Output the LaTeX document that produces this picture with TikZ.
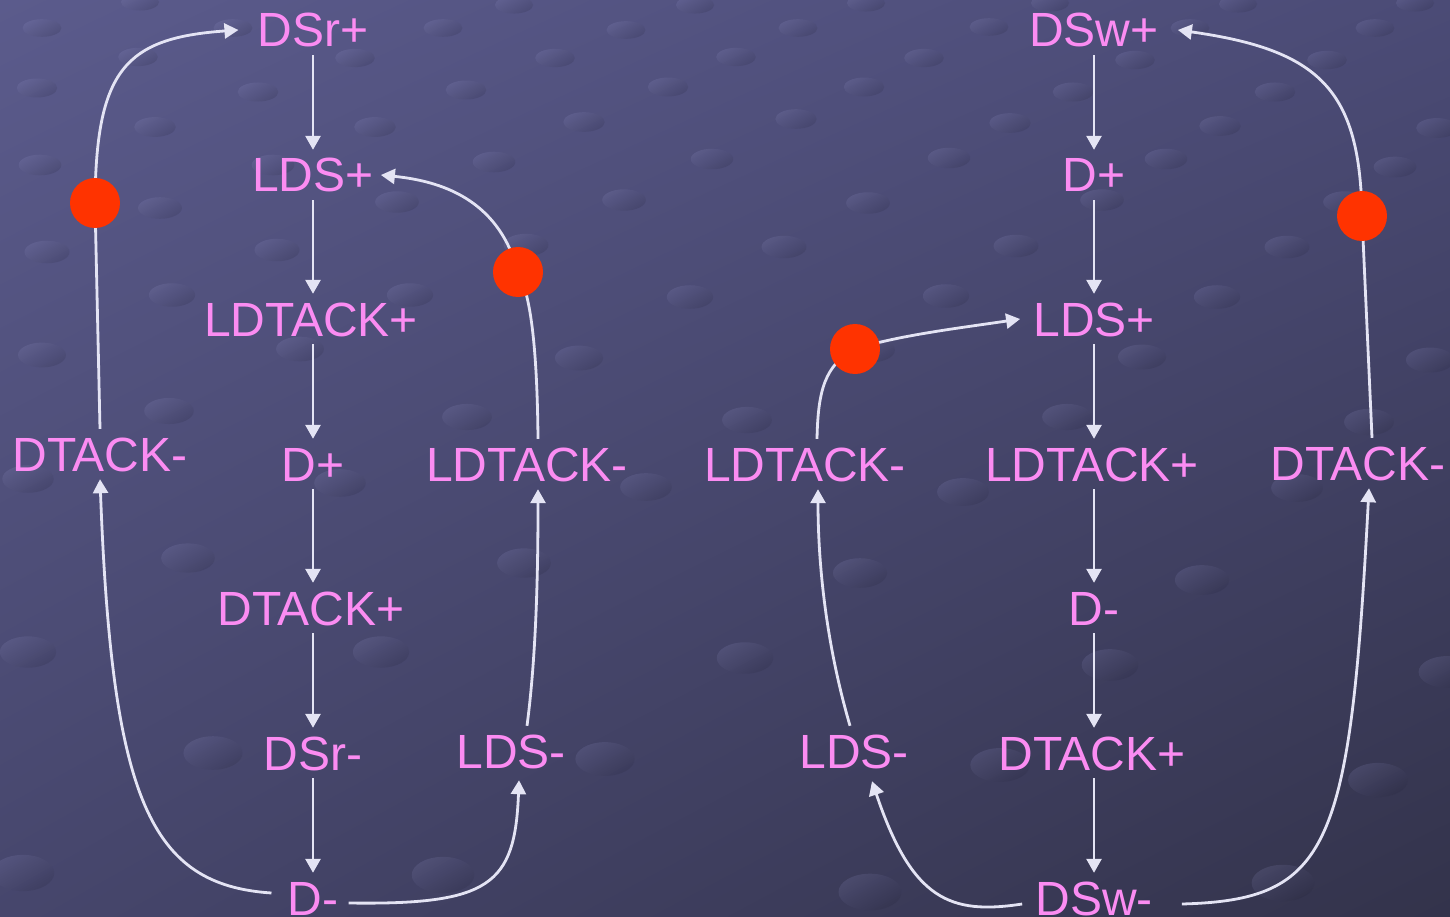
\documentclass[tikz,border=0pt]{standalone}
\usepackage{fontspec}
\setmainfont{Liberation Sans}
\usetikzlibrary{arrows.meta,calc,shadings}
\definecolor{bgUL}{HTML}{5B5B8C}
\definecolor{bgUR}{HTML}{4B4B76}
\definecolor{bgLL}{HTML}{46466C}
\definecolor{bgLR}{HTML}{33334B}
\definecolor{labpink}{HTML}{FB8CF2}
\definecolor{arrowc}{HTML}{E4E4F4}
\definecolor{tokred}{HTML}{FF3300}
\definecolor{dotlight}{HTML}{9A9AD0}
\definecolor{dotdark}{HTML}{1C1C30}
\tikzset{
  lab/.style={text=labpink, font=\fontsize{48}{52}\selectfont, anchor=base,
    inner xsep=3pt, inner ysep=8pt, text height=34pt, text depth=0pt},
  arc/.style={draw=arrowc, line width=2.8pt, -{Triangle[length=14pt,width=15pt]}},
  tok/.style={circle, fill=tokred, minimum size=50pt, inner sep=0pt},
  bgdot/.style={top color=dotlight, bottom color=dotdark, shading angle=30, opacity=0.16}
}
\begin{document}
\begin{tikzpicture}[x=1pt,y=-1pt]
\useasboundingbox (0,0) rectangle (1450,917);
\shade[upper left=bgUL, upper right=bgUR, lower left=bgLL, lower right=bgLR] (0,0) rectangle (1450,917);
% background dots
\foreach \px/\py in {140/2,514/5,695/5,866/3,1050/3,1238/4,1415/3,
  42/28,233/28,443/28,626/30,798/28,989/27,1190/28,1375/28,
  138/57,355/58,555/58,736/57,924/58,1135/60,1327/60,
  37/88,258/92,466/90,668/87,864/87,1073/92,1275/92,
  155/127,375/127,584/122,796/119,1010/123,1220/126,1437/128,
  40/165,273/165,494/162,712/159,949/158,1166/159,1395/167,
  160/208,397/202,624/200,868/203,1102/200,1345/202,
  47/252,277/250,526/245,784/247,1016/246,1287/247,
  172/295,410/295,690/297,946/296,1217/297,
  42/355,300/349,579/358,871/350,1142/357,1430/360,
  169/411,467/417,747/420,1067/417,1369/422,
  28/479,340/483,646/487,963/492,1297/488,
  188/558,524/563,860/573,1202/580,
  28/652,381/652,745/658,1110/665,1447/672,
  213/753,605/759,1000/765,1378/780,
  23/873,443/875,870/892,1283/883}{
  \pgfmathsetmacro\rx{19+0.014*\py}
  \pgfmathsetmacro\ry{8.5+0.011*\py}
  \shade[bgdot] (\px,\py) ellipse [x radius=\rx, y radius=\ry];
}
% left net
\node[lab] (dsrp) at (313,47) {DSr+};
\node[lab] (ldspL) at (313,192) {LDS+};
\node[lab] (ldtackpL) at (311,336) {LDTACK+};
\node[lab] (dpL) at (313,481) {D+};
\node[lab] (dtackpL) at (311,625) {DTACK+};
\node[lab] (dsrm) at (313,770) {DSr-};
\node[lab] (dmL) at (313,915) {D-};
\node[lab] (dtackmL) at (100,471) {DTACK-};
\node[lab] (ldtackmL) at (527,481) {LDTACK-};
\node[lab] (ldsmL) at (511,768) {LDS-};
% right net
\node[lab] (dswp) at (1094,47) {DSw+};
\node[lab] (dpR) at (1094,192) {D+};
\node[lab] (ldspR) at (1094,336) {LDS+};
\node[lab] (ldtackpR) at (1092,481) {LDTACK+};
\node[lab] (dmR) at (1094,625) {D-};
\node[lab] (dtackpR) at (1092,770) {DTACK+};
\node[lab] (dswm) at (1094,915) {DSw-};
\node[lab] (ldtackmR) at (805,481) {LDTACK-};
\node[lab] (ldsmR) at (854,768) {LDS-};
\node[lab] (dtackmR) at (1358,480) {DTACK-};
% token positions
\coordinate (pA) at (95,203);
\coordinate (pB) at (518,272);
\coordinate (pC) at (855,349);
\coordinate (pD) at (1362,216);
% vertical arrows
\draw[arc] (dsrp) -- (dsrp |- ldspL.north);
\draw[arc] (ldspL) -- (ldspL |- ldtackpL.north);
\draw[arc] (ldtackpL.south -| dsrp) -- (dsrp |- dpL.north);
\draw[arc] (dpL) -- (dpL |- dtackpL.north);
\draw[arc] (dtackpL.south -| dsrp) -- (dsrp |- dsrm.north);
\draw[arc] (dsrm) -- (dmL);
\draw[arc] (dswp) -- (dpR);
\draw[arc] (dpR) -- (ldspR);
\draw[arc] (ldspR) -- (ldspR |- ldtackpR.north);
\draw[arc] (ldtackpR.south -| dswp) -- (dswp |- dmR.north);
\draw[arc] (dmR) -- (dmR |- dtackpR.north);
\draw[arc] (dtackpR.south -| dswp) -- (dswp |- dswm.north);
% curved arcs, left
\draw[arc] (dtackmL.north) -- (pA) .. controls (96,70) and (125,38) .. ([xshift=-16pt]dsrp.west);
\draw[arc] ([xshift=11pt]ldtackmL.north) .. controls (537,330) and (528,290) .. (pB) .. controls (500,205) and (450,182) .. ([xshift=4pt]ldspL.east);
\draw[arc] ([shift={(-13,-5)}]dmL.west) .. controls (150,885) and (112,800) .. (dtackmL.south);
\draw[arc] ([shift={(7,5)}]dmL.east) .. controls (490,905) and (515,885) .. ([shift={(8,4)}]ldsmL.south);
\draw[arc] ([xshift=16pt]ldsmL.north) .. controls (537,650) and (538,560) .. ([xshift=11pt]ldtackmL.south);
% curved arcs, right
\draw[arc] ([xshift=-4pt]ldsmR.north) .. controls (825,640) and (818,560) .. ([xshift=13pt]ldtackmR.south);
\draw[arc] ([xshift=12pt]ldtackmR.north) .. controls (818,390) and (825,365) .. (pC) .. controls (900,335) and (960,328) .. ([xshift=-10pt]ldspR.west);
\draw[arc] ([shift={(-10,6)}]dswm.west) .. controls (950,915) and (912,900) .. ([shift={(18,5)}]ldsmR.south);
\draw[arc] ([shift={(26,6)}]dswm.east) .. controls (1330,900) and (1350,850) .. ([xshift=11pt]dtackmR.south);
\draw[arc] ([xshift=14pt]dtackmR.north) -- (pD) .. controls (1360,90) and (1320,50) .. ([xshift=16pt]dswp.east);
% tokens
\node[tok] (tokA) at (pA) {};
\node[tok] (tokB) at (pB) {};
\node[tok] (tokC) at (pC) {};
\node[tok] (tokD) at (pD) {};
\end{tikzpicture}
\end{document}
